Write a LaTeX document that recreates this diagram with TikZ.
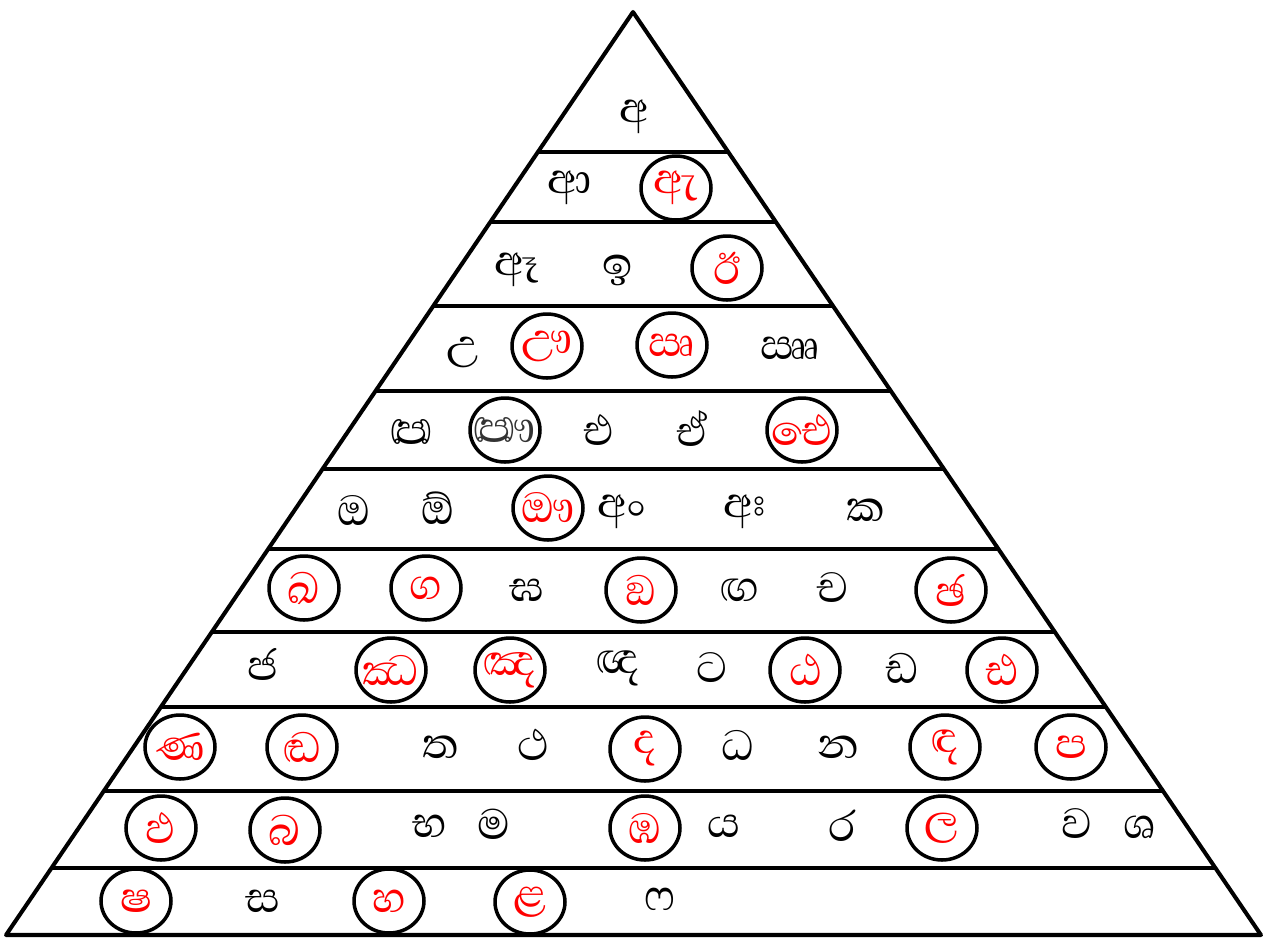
\documentclass[tikz,border=0pt]{standalone}
\usepackage{fontspec}
\newfontfamily\sinhala[Script=Sinhala]{Abhaya Libre}
\usetikzlibrary{shapes.geometric, calc}

\begin{document}
\begin{tikzpicture}[
  x=0.02cm, y=-0.02cm,
  edge/.style={line width=2.3pt, line join=round},
  letter/.style={font=\sinhala\fontsize{31}{33}\selectfont, inner sep=0pt},
  ring/.style={letter, ellipse, draw, line width=2pt, minimum width=1.4cm, minimum height=1.28cm, text=red,
    execute at begin node={\hbox to 0pt\bgroup\hss}, execute at end node={\hss\egroup}}
]
\useasboundingbox (0,0) rectangle (1265,938);
\coordinate (apex) at (633,12);
\coordinate (bl) at (6,935);
\coordinate (br) at (1261,935);
\draw[edge] (apex) -- (bl) -- (br) -- cycle;
\foreach \yy in {152,222,306,391,469,549,632,707,791,868}
  \draw[edge] ($(apex)!{(\yy-12)/923}!(bl)$) -- ($(apex)!{(\yy-12)/923}!(br)$);

% vowels
\node[letter] (a) at (634,117) {අ};
\node[letter] (aa) at (570,188) {ආ};
\node[ring] (ae) at (676,188) {ඇ};
\node[letter] (aae) at (517,270) {ඈ};
\node[letter] (i) at (618,270) {ඉ};
\node[ring] (ii) at (727,268) {ඊ};
\node[letter] (u) at (463,352) {උ};
\node[ring] (uu) at (547,346) {ඌ};
\node[ring] (ri) at (672,345) {ඍ};
\node[letter] (rii) at (790,348) {ඎ};
\node[letter] (ilu) at (412,432) {ඏ};
\node[ring, text=black!80] (iluu) at (505,430) {ඐ};
\node[letter] (e) at (599,430) {එ};
\node[letter] (ee) at (692,428) {ඒ};
\node[ring] (ai) at (802,430) {ඓ};
\node[letter] (o) at (354,510) {ඔ};
\node[letter] (oo) at (438,508) {ඕ};
\node[ring] (au) at (548,508) {ඖ};
\node[letter] (am) at (622,512) {අං};
\node[letter] (ah) at (745,512) {අඃ};

% consonants
\node[letter] (ka) at (866,510) {ක};
\node[ring] (kha) at (304,588) {ඛ};
\node[ring] (ga) at (426,588) {ග};
\node[letter] (gha) at (527,590) {ඝ};
\node[ring] (nga) at (641,590) {ඞ};
\node[letter] (nnga) at (740,590) {ඟ};
\node[letter] (ca) at (832,588) {ච};
\node[ring] (cha) at (951,590) {ඡ};
\node[letter] (ja) at (263,664) {ජ};
\node[ring] (jha) at (391,670) {ඣ};
\node[ring] (nya) at (510,670) {ඤ};
\node[letter] (jnya) at (618,668) {ඥ};
\node[letter] (tta) at (712,668) {ට};
\node[ring] (ttha) at (805,670) {ඨ};
\node[letter] (dda) at (902,668) {ඩ};
\node[ring] (ddha) at (1002,670) {ඪ};
\node[ring] (nna) at (180,747) {ණ};
\node[ring] (nndda) at (302,747) {ඬ};
\node[letter] (ta) at (441,747) {ත};
\node[letter] (tha) at (533,745) {ථ};
\node[ring] (da) at (645,749) {ද};
\node[letter] (dha) at (738,745) {ධ};
\node[letter] (na) at (838,747) {න};
\node[ring] (nda) at (945,747) {ඳ};
\node[ring] (pa) at (1071,747) {ප};
\node[ring] (pha) at (161,828) {ඵ};
\node[ring] (ba) at (285,830) {බ};
\node[letter] (bha) at (430,826) {භ};
\node[letter] (ma) at (494,824) {ම};
\node[ring] (mba) at (645,828) {ඹ};
\node[letter] (ya) at (724,826) {ය};
\node[letter] (ra) at (842,826) {ර};
\node[ring] (la) at (942,828) {ල};
\node[letter] (va) at (1077,824) {ව};
\node[letter] (sha) at (1140,827) {ශ};
\node[ring] (ssa) at (136,901) {ෂ};
\node[letter] (sa) at (263,901) {ස};
\node[ring] (ha) at (389,901) {හ};
\node[ring] (lla) at (530,902) {ළ};
\node[letter] (fa) at (660,899) {ෆ};
\end{tikzpicture}
\end{document}
